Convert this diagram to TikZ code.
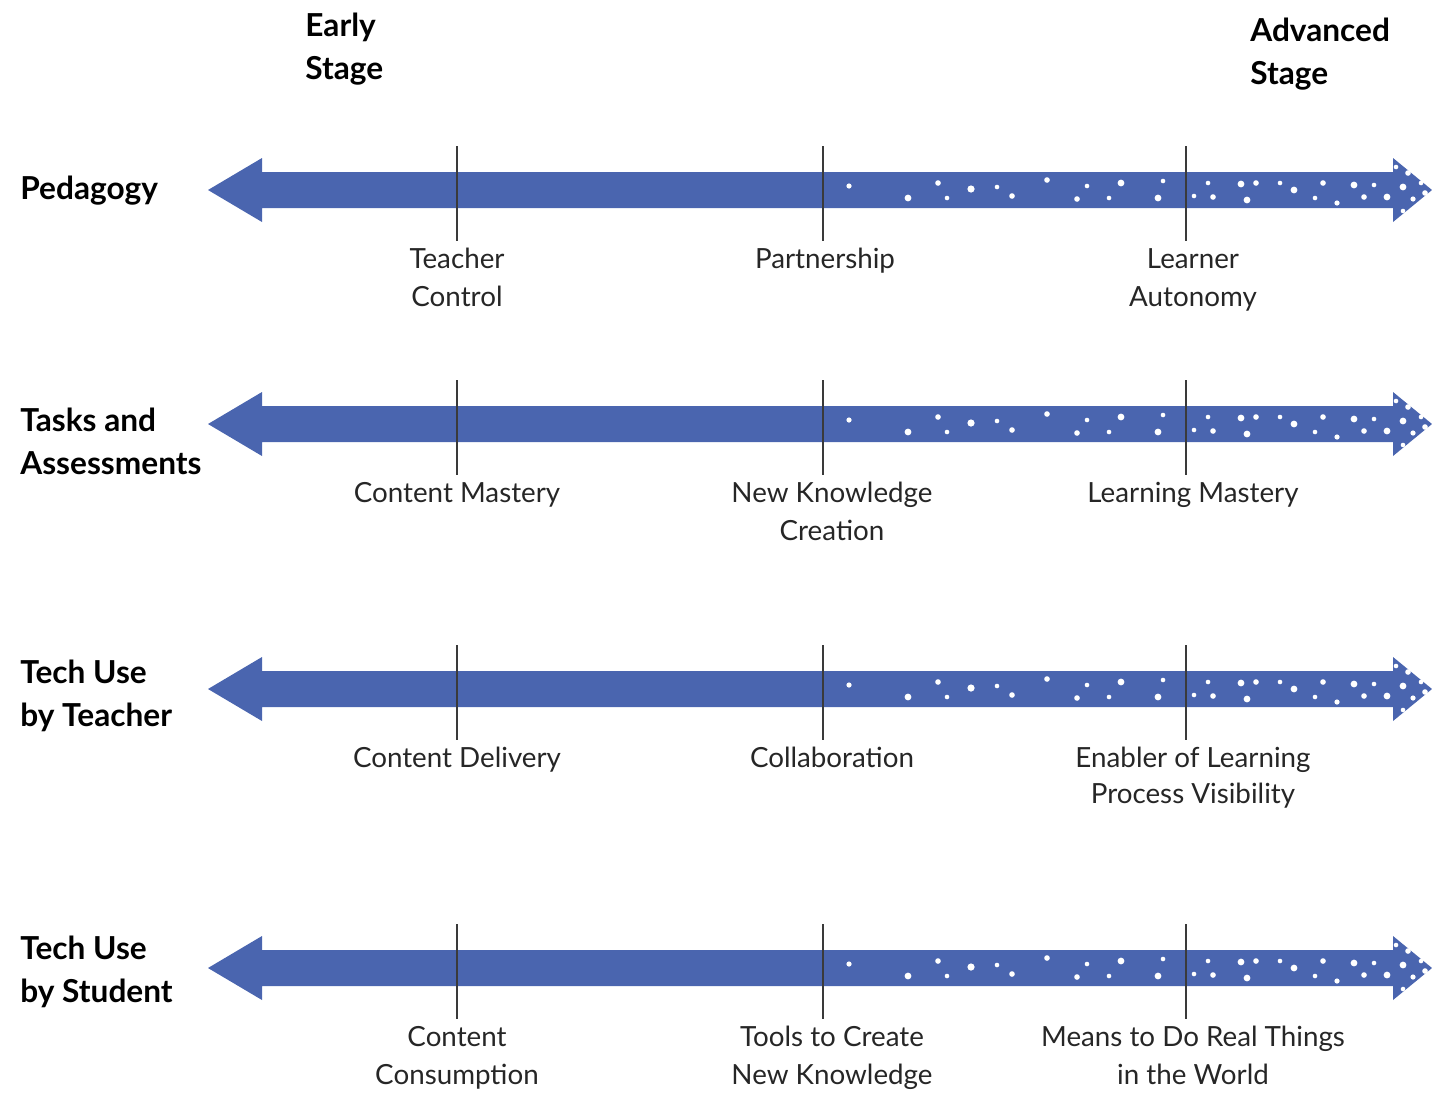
\documentclass[tikz,border=0pt]{standalone}
\usepackage{fontspec}
\setmainfont{Lato}
\definecolor{ARROW}{HTML}{4A65AF}
\definecolor{TICK}{HTML}{3A3A3A}

\tikzset{
	lbl/.style={font=\fontsize{15.8}{21.6}\selectfont, text=black!85, align=center, inner xsep=0pt, inner ysep=4pt, anchor=north},
	rowlbl/.style={font=\fontsize{18}{24.5}\selectfont\bfseries, text=black, align=left, inner sep=0pt, anchor=north west},
	tick/.style={draw=TICK, line width=1.1pt},
	pics/stagearrow/.style={code={
		\fill[ARROW] (208,0) -- (262,-32) -- (262,-18) -- (1393,-18) -- (1393,-32) -- (1432,0)
			-- (1393,32) -- (1393,18) -- (262,18) -- (262,32) -- cycle;
		\fill[white] (849,-4) circle (2.6) (908,8) circle (3.4) (938,-7) circle (2.8) (947,8) circle (2.3)
			(971,-1) circle (3.6) (997,-3) circle (2.3) (1012,6) circle (2.8) (1047,-10) circle (2.8)
			(1077,9) circle (2.8) (1087,-4) circle (2.3) (1109,8) circle (2.3) (1121,-7) circle (3.4)
			(1158,8) circle (3.4) (1163,-9) circle (2.3) (1194,6) circle (2.3) (1208,-7) circle (2.3)
			(1213,7) circle (2.8) (1241,-6) circle (3.4) (1247,10) circle (3.4) (1256,-7) circle (2.8)
			(1280,-7) circle (2.3) (1294,0) circle (3.4) (1315,8) circle (2.3) (1323,-7) circle (2.8)
			(1337,13) circle (2.6) (1354,-5) circle (3.4) (1364,7) circle (2.8) (1374,-5) circle (2.3)
			(1387,7) circle (3.4) (1396,-23) circle (2.3) (1408,-17) circle (2.8) (1403,-3) circle (3.4)
			(1421,-7) circle (2.3) (1425,3) circle (2.8) (1413,9) circle (2.6) (1403,21) circle (2.3);
	}},
}

\begin{document}
\begin{tikzpicture}[x=0.02cm, y=-0.02cm]
	\useasboundingbox (0,0) rectangle (1432,1093);

	% stage headings
	\node [rowlbl] (early) at (305,13) {Early\\Stage};
	\node [rowlbl] (advanced) at (1250,18) {Advanced\\Stage};

	% row headings
	\node [rowlbl] (pedagogy) at (20,176) {Pedagogy};
	\node [rowlbl] (tasks) at (20,408) {Tasks and\\Assessments};
	\node [rowlbl] (teacheruse) at (20,660) {Tech Use\\by Teacher};
	\node [rowlbl] (studentuse) at (20,936) {Tech Use\\by Student};

	% arrows
	\pic at (0,190) {stagearrow};
	\pic at (0,424) {stagearrow};
	\pic at (0,689) {stagearrow};
	\pic at (0,968) {stagearrow};

	% pedagogy
	\coordinate (p1) at (457,146);
	\coordinate (p2) at (823,146);
	\coordinate (p3) at (1186,146);
	\node [lbl] (p1l) at (457,241) {Teacher\\Control};
	\node [lbl] (p2l) at (825,241) {Partnership};
	\node [lbl] (p3l) at (1193,241) {Learner\\Autonomy};
	\draw [tick] (p1) -- (p1 |- p1l.north);
	\draw [tick] (p2) -- (p2 |- p2l.north);
	\draw [tick] (p3) -- (p3 |- p3l.north);

	% tasks and assessments
	\coordinate (a1) at (457,380);
	\coordinate (a2) at (823,380);
	\coordinate (a3) at (1186,380);
	\node [lbl] (a1l) at (457,475) {Content Mastery};
	\node [lbl] (a2l) at (832,475) {New Knowledge\\Creation};
	\node [lbl] (a3l) at (1193,475) {Learning Mastery};
	\draw [tick] (a1) -- (a1 |- a1l.north);
	\draw [tick] (a2) -- (a2 |- a2l.north);
	\draw [tick] (a3) -- (a3 |- a3l.north);

	% tech use by teacher
	\coordinate (t1) at (457,645);
	\coordinate (t2) at (823,645);
	\coordinate (t3) at (1186,645);
	\node [lbl] (t1l) at (457,740) {Content Delivery};
	\node [lbl] (t2l) at (832,740) {Collaboration};
	\node [lbl, font=\fontsize{15.8}{20.5}\selectfont] (t3l) at (1193,740) {Enabler of Learning\\Process Visibility};
	\draw [tick] (t1) -- (t1 |- t1l.north);
	\draw [tick] (t2) -- (t2 |- t2l.north);
	\draw [tick] (t3) -- (t3 |- t3l.north);

	% tech use by student
	\coordinate (s1) at (457,924);
	\coordinate (s2) at (823,924);
	\coordinate (s3) at (1186,924);
	\node [lbl] (s1l) at (457,1019) {Content\\Consumption};
	\node [lbl] (s2l) at (832,1019) {Tools to Create\\New Knowledge};
	\node [lbl] (s3l) at (1193,1019) {Means to Do Real Things\\in the World};
	\draw [tick] (s1) -- (s1 |- s1l.north);
	\draw [tick] (s2) -- (s2 |- s2l.north);
	\draw [tick] (s3) -- (s3 |- s3l.north);
\end{tikzpicture}
\end{document}
